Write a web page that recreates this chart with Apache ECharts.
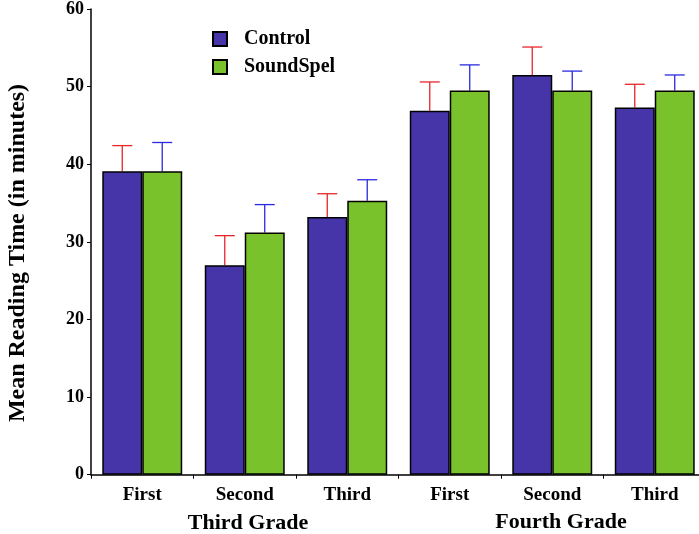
<!DOCTYPE html>
<html>
<head>
<meta charset="utf-8">
<script src="https://cdn.jsdelivr.net/npm/echarts@6/dist/echarts.min.js"></script>
<style>
  html, body { margin: 0; padding: 0; background: #fff; overflow: hidden; }
  /* the chart is a little wider than the page so the last group runs to the edge */
  #chart { width: 710px; height: 534px; }
</style>
</head>
<body>
<div id="chart"></div>
<script>
// Reading time per session, grouped by grade
const categories = ['First', 'Second', 'Third', 'First', 'Second', 'Third'];
const gradeLabels = ['Third Grade', 'Fourth Grade'];
const controlMeans = [39.1, 27.0, 33.2, 46.9, 51.5, 47.3];
const soundSpelMeans = [39.1, 31.2, 35.3, 49.5, 49.5, 49.5];
const controlErr = [3.3, 3.8, 3.0, 3.7, 3.6, 3.0];
const soundSpelErr = [3.7, 3.6, 2.7, 3.3, 2.5, 2.0];
const yTicks = [0, 10, 20, 30, 40, 50, 60];

const FONT = '"Liberation Serif", "DejaVu Serif", serif';
const CONTROL_COLOR = '#4535a8';
const SOUNDSPEL_COLOR = '#7ac22c';
const CATEGORY_GAP = 0.22;

// Upward error bar drawn from the bar top; side = -1 for left bar, +1 for right bar
function errorBar(side, color) {
  return function (params, api) {
    const idx = api.value(0);
    const mean = api.value(1);
    const err = api.value(2);
    const base = api.coord([idx, mean]);
    const top = api.coord([idx, mean + err]);
    const band = api.size([1, 0])[0];
    const barW = band * (1 - CATEGORY_GAP) / 2;
    const x = base[0] + side * barW / 2;
    const cap = 10;
    const style = { stroke: color, lineWidth: 1.3 };
    return {
      type: 'group',
      children: [
        { type: 'line', shape: { x1: x, y1: base[1], x2: x, y2: top[1] }, style },
        { type: 'line', shape: { x1: x - cap, y1: top[1], x2: x + cap, y2: top[1] }, style }
      ]
    };
  };
}

const chart = echarts.init(document.getElementById('chart'), null, { renderer: 'canvas' });

chart.setOption({
  animation: false,
  backgroundColor: '#ffffff',
  textStyle: { fontFamily: FONT },
  grid: { left: 91, right: 4, top: 6.7, bottom: 59.3, containLabel: false },
  legend: {
    orient: 'vertical',
    left: 212,
    top: 29,
    padding: 0,
    itemWidth: 14,
    itemHeight: 14,
    itemGap: 8,
    icon: 'rect',
    data: ['Control', 'SoundSpel'],
    textStyle: { fontFamily: FONT, fontWeight: 'bold', fontSize: 20, lineHeight: 14, color: '#000', padding: [0, 0, 0, 12] }
  },
  xAxis: {
    type: 'category',
    data: categories,
    axisLine: { lineStyle: { color: '#000', width: 1.5 } },
    axisTick: { show: true, length: 4, alignWithLabel: false, lineStyle: { color: '#000' } },
    axisLabel: { fontFamily: FONT, fontWeight: 'bold', fontSize: 19, color: '#000', margin: 11 },
    splitLine: { show: false }
  },
  yAxis: {
    type: 'value',
    min: yTicks[0],
    max: yTicks[yTicks.length - 1],
    interval: yTicks[1] - yTicks[0],
    axisLine: { show: true, lineStyle: { color: '#000', width: 1.5 } },
    axisTick: { show: true, length: 4, lineStyle: { color: '#000' } },
    axisLabel: { fontFamily: FONT, fontWeight: 'bold', fontSize: 18, color: '#000', margin: 7 },
    splitLine: { show: false }
  },
  graphic: [
    {
      type: 'text',
      x: 18, y: 253,
      rotation: Math.PI / 2,
      style: {
        text: 'Mean Reading Time (in minutes)',
        font: 'bold 24px ' + FONT,
        fill: '#000',
        textAlign: 'center',
        textVerticalAlign: 'middle'
      }
    },
    {
      type: 'text',
      x: 248, y: 523,
      style: { text: gradeLabels[0], font: 'bold 22px ' + FONT, fill: '#000', textAlign: 'center', textVerticalAlign: 'middle' }
    },
    {
      type: 'text',
      x: 561, y: 522,
      style: { text: gradeLabels[1], font: 'bold 22px ' + FONT, fill: '#000', textAlign: 'center', textVerticalAlign: 'middle' }
    }
  ],
  series: [
    {
      name: 'Control',
      type: 'bar',
      data: controlMeans,
      barGap: '0%',
      barCategoryGap: (CATEGORY_GAP * 100) + '%',
      itemStyle: { color: CONTROL_COLOR, borderColor: '#000', borderWidth: 1.5 }
    },
    {
      name: 'SoundSpel',
      type: 'bar',
      data: soundSpelMeans,
      barGap: '0%',
      barCategoryGap: (CATEGORY_GAP * 100) + '%',
      itemStyle: { color: SOUNDSPEL_COLOR, borderColor: '#000', borderWidth: 1.5 }
    },
    {
      type: 'custom',
      renderItem: errorBar(-1, '#e8262a'),
      data: controlMeans.map((m, i) => [i, m, controlErr[i]]),
      encode: { x: 0, y: 1 },
      z: 1
    },
    {
      type: 'custom',
      renderItem: errorBar(1, '#2a2ae0'),
      data: soundSpelMeans.map((m, i) => [i, m, soundSpelErr[i]]),
      encode: { x: 0, y: 1 },
      z: 1
    }
  ]
});
</script>
</body>
</html>
